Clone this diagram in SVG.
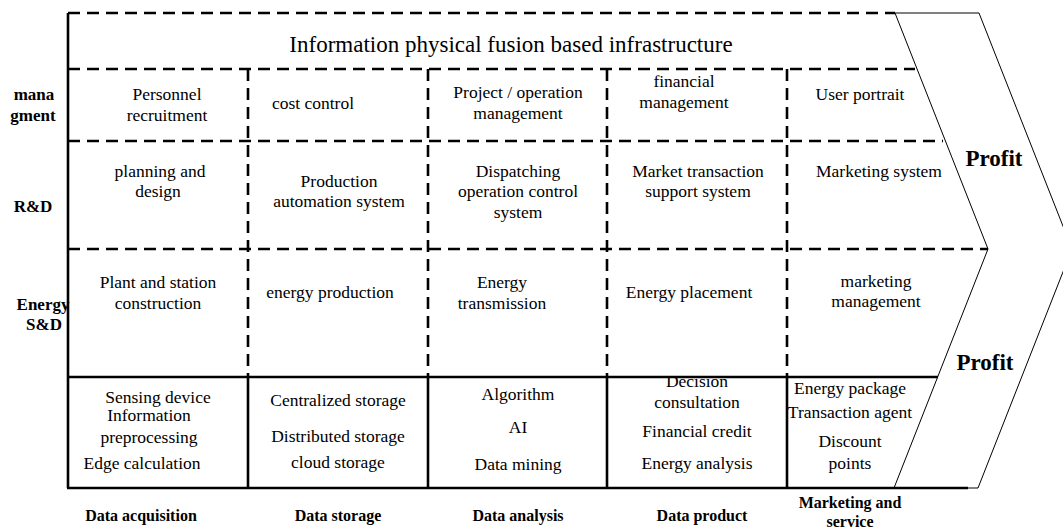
<svg xmlns="http://www.w3.org/2000/svg" width="1063" height="531" viewBox="0 0 1063 531">
<style>
text{font-family:"Liberation Serif","Times New Roman",serif;fill:#000;text-anchor:middle}
.c{font-size:17.5px}
.t{font-size:23px}
.b{font-size:16px;font-weight:bold}
.l{font-size:17px;font-weight:bold}
.p{font-size:23px;font-weight:bold}
.d{stroke:#000;stroke-width:2.6;stroke-dasharray:12 7;fill:none}
.s{stroke:#000;stroke-width:2.6;fill:none}
.th{stroke:#000;stroke-width:1;fill:none}
</style>
<rect width="1063" height="531" fill="#fff"/>
<g id="chevron">
<polygon points="895,13 979,13 1072,249 978,488 894,488 988,249" fill="#fff" class="th"/>
<text class="p" x="994" y="166">Profit</text>
<text class="p" x="985" y="370">Profit</text>
</g>
<g id="grid">
<line class="d" x1="68" y1="13" x2="895" y2="13"/>
<line class="d" x1="68" y1="69" x2="915" y2="69"/>
<line class="d" x1="68" y1="141" x2="943" y2="141"/>
<line class="d" x1="68" y1="249" x2="988" y2="249"/>
<line class="d" x1="248" y1="69" x2="248" y2="377"/>
<line class="d" x1="428" y1="69" x2="428" y2="377"/>
<line class="d" x1="607" y1="69" x2="607" y2="377"/>
<line class="d" x1="787" y1="69" x2="787" y2="377"/>
<line class="s" x1="68" y1="13" x2="68" y2="488"/>
<line class="s" x1="67" y1="377" x2="938" y2="377"/>
<line class="s" x1="67" y1="488" x2="968" y2="488"/>
<line class="s" x1="248" y1="377" x2="248" y2="488"/>
<line class="s" x1="428" y1="377" x2="428" y2="488"/>
<line class="s" x1="607" y1="377" x2="607" y2="488"/>
<line class="s" x1="787" y1="377" x2="787" y2="488"/>
</g>
<g id="title"><text class="t" x="511" y="52">Information physical fusion based infrastructure</text></g>
<g id="row-labels">
<text class="l" x="34" y="100">mana</text>
<text class="l" x="33" y="121">gment</text>
<text class="l" x="33" y="212">R&amp;D</text>
<text class="l" x="43" y="310">Energy</text>
<text class="l" x="44" y="330">S&amp;D</text>
</g>
<g id="mgmt-row">
<g id="personnel"><text class="c" x="167" y="100">Personnel</text><text class="c" x="167" y="121">recruitment</text></g>
<g id="cost"><text class="c" x="313" y="109">cost control</text></g>
<g id="project"><text class="c" x="518" y="98">Project / operation</text><text class="c" x="518" y="119">management</text></g>
<g id="financial"><text class="c" x="684" y="87">financial</text><text class="c" x="684" y="108">management</text></g>
<g id="user"><text class="c" x="860" y="100">User portrait</text></g>
</g>
<g id="rd-row">
<g id="planning"><text class="c" x="160" y="177">planning and</text><text class="c" x="158" y="197">design</text></g>
<g id="production"><text class="c" x="339" y="187">Production</text><text class="c" x="339" y="207">automation system</text></g>
<g id="dispatching"><text class="c" x="518" y="177">Dispatching</text><text class="c" x="518" y="197">operation control</text><text class="c" x="518" y="218">system</text></g>
<g id="market"><text class="c" x="698" y="177">Market transaction</text><text class="c" x="698" y="197">support system</text></g>
<g id="mktsys"><text class="c" x="879" y="177">Marketing system</text></g>
</g>
<g id="energy-row">
<g id="plant"><text class="c" x="158" y="288">Plant and station</text><text class="c" x="158" y="309">construction</text></g>
<g id="eprod"><text class="c" x="330" y="298">energy production</text></g>
<g id="etrans"><text class="c" x="502" y="288">Energy</text><text class="c" x="502" y="309">transmission</text></g>
<g id="eplace"><text class="c" x="689" y="298">Energy placement</text></g>
<g id="mktmgmt"><text class="c" x="876" y="287">marketing</text><text class="c" x="876" y="307">management</text></g>
</g>
<g id="data-row">
<g id="acq"><text class="c" x="158" y="403">Sensing device</text><text class="c" x="149" y="421">Information</text><text class="c" x="149" y="443">preprocessing</text><text class="c" x="142" y="469">Edge calculation</text></g>
<g id="storage"><text class="c" x="338" y="406">Centralized storage</text><text class="c" x="338" y="442">Distributed storage</text><text class="c" x="338" y="468">cloud storage</text></g>
<g id="analysis"><text class="c" x="518" y="400">Algorithm</text><text class="c" x="518" y="433">AI</text><text class="c" x="518" y="470">Data mining</text></g>
<g id="product"><text class="c" x="697" y="387">Decision</text><text class="c" x="697" y="408">consultation</text><text class="c" x="697" y="437">Financial credit</text><text class="c" x="697" y="469">Energy analysis</text></g>
<g id="service"><text class="c" x="850" y="394">Energy package</text><text class="c" x="850" y="418">Transaction agent</text><text class="c" x="850" y="447">Discount</text><text class="c" x="850" y="469">points</text></g>
</g>
<g id="col-labels">
<text class="b" x="141" y="521">Data acquisition</text>
<text class="b" x="338" y="521">Data storage</text>
<text class="b" x="518" y="521">Data analysis</text>
<text class="b" x="702" y="521">Data product</text>
<text class="b" x="850" y="508">Marketing and</text>
<text class="b" x="850" y="527">service</text>
</g>
</svg>
